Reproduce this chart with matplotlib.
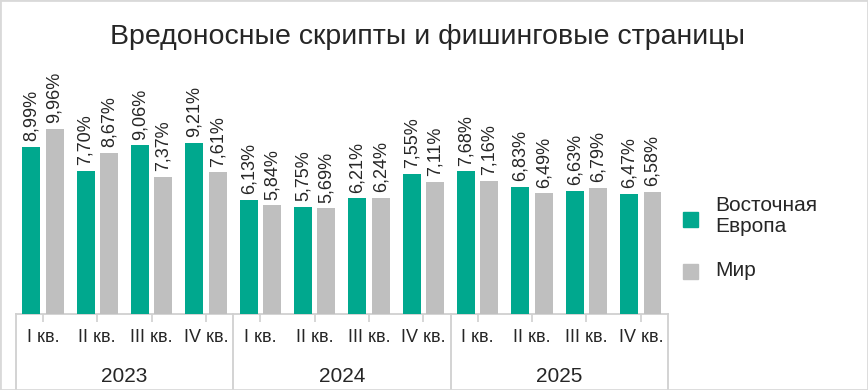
import matplotlib.pyplot as plt
import matplotlib.transforms as mtransforms
from matplotlib.patches import Rectangle
import numpy as np

plt.rcParams['font.family'] = ['Liberation Sans', 'DejaVu Sans']

# data
title = "Вредоносные скрипты и фишинговые страницы"
years = ["2023", "2024", "2025"]
quarters = ["I кв.", "II кв.", "III кв.", "IV кв."]
east_europe = [8.99, 7.70, 9.06, 9.21, 6.13, 5.75, 6.21, 7.55, 7.68, 6.83, 6.63, 6.47]
world = [9.96, 8.67, 7.37, 7.61, 5.84, 5.69, 6.24, 7.11, 7.16, 6.49, 6.79, 6.58]
series_names = ["Восточная\nЕвропа", "Мир"]

green = "#00A88E"
grey = "#BFBFBF"
text_col = "#262626"
line_col = "#D0D0D0"

W, H = 868, 390
fig = plt.figure(figsize=(W / 100, H / 100), dpi=100)

# axes placed in pixel terms
left, right = 15.7, 668
base_y, top_y = 314, 109.4
ax = fig.add_axes([left / W, (H - base_y) / H, (right - left) / W, (base_y - top_y) / H])

n = len(east_europe)
x = np.arange(n)
bw = 0.33
off = 0.215

b1 = ax.bar(x - off, east_europe, bw, color=green, zorder=3)
b2 = ax.bar(x + off, world, bw, color=grey, zorder=3)

for bars, vals in ((b1, east_europe), (b2, world)):
    for rect, v in zip(bars, vals):
        lab = f"{v:.2f}".replace(".", ",") + "%"
        ax.annotate(lab, (rect.get_x() + rect.get_width() / 2, rect.get_height()),
                    xytext=(0, 4), textcoords="offset points",
                    rotation=90, ha="center", va="bottom",
                    fontsize=13, color=text_col, annotation_clip=False)

ax.set_xlim(-0.5, n - 0.5)
ax.set_ylim(0, 11)
ax.set_yticks([])
for s in ("top", "right", "left"):
    ax.spines[s].set_visible(False)
ax.spines["bottom"].set_color(line_col)
ax.spines["bottom"].set_linewidth(1.3)

ax.set_xticks(x)
ax.set_xticklabels(quarters * len(years), fontsize=13, color=text_col)
ax.tick_params(axis="x", length=6, width=1.2, color=line_col, pad=4.5)

# group separators and year labels
tr = mtransforms.blended_transform_factory(ax.transData, fig.transFigure)
for b in np.arange(-0.5, n, 4):
    ax.plot([b, b], [(H - base_y) / H, 0], transform=tr, color=line_col,
            lw=1.3, clip_on=False)
for i, yr in enumerate(years):
    ax.text(4 * i + 1.5, (H - 377) / H, yr, transform=tr, ha="center",
            va="center", fontsize=15, color=text_col)

fig.text(428 / W, 1 - 37 / H, title, ha="center", va="center",
         fontsize=20.5, color=text_col)

# legend
for (sy, col, name, ty) in ((212, green, series_names[0], 216),
                             (264, grey, series_names[1], 271)):
    fig.patches.append(Rectangle((683 / W, 1 - (sy + 15) / H), 15 / W, 15 / H,
                                 transform=fig.transFigure, color=col))
    fig.text(715 / W, 1 - ty / H, name, ha="left", va="center",
             fontsize=15, color=text_col, linespacing=1.15)

# chart border
fig.patches.append(Rectangle((0, 0), 1, 1, transform=fig.transFigure,
                             fill=False, edgecolor="#D9D9D9", lw=2))

fig.savefig("out.png", dpi=100)
